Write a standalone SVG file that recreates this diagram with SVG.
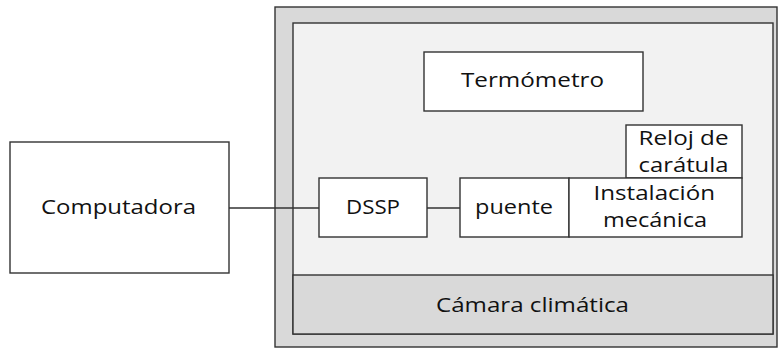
<svg xmlns="http://www.w3.org/2000/svg" width="778" height="348" viewBox="0 0 778 348">
<style>
.b{stroke:#333;stroke-width:1.4;}
.w{fill:#fff;}
.t{font-family:"Open Sans","Noto Sans",sans-serif;font-size:19.5px;fill:#111;text-anchor:start;}
.c{stroke:#333;stroke-width:1.4;fill:none;}
</style>
<rect width="778" height="348" fill="#fff"/>
<g id="camara-outer">
<rect class="b" x="275" y="7" width="502" height="340" fill="#d9d9d9"/>
<rect class="b" x="293" y="23" width="480" height="311" fill="#f2f2f2"/>
</g>
<g id="camara-climatica">
<rect class="b" x="293" y="275" width="480" height="59" fill="#d9d9d9"/>
<text class="t" x="436" y="311.5" textLength="193" lengthAdjust="spacingAndGlyphs">Cámara climática</text>
</g>
<g id="connectors">
<line class="c" x1="229" y1="208" x2="319" y2="208"/>
<line class="c" x1="427" y1="208" x2="460" y2="208"/>
</g>
<g id="computadora">
<rect class="b w" x="10" y="142" width="219" height="131"/>
<text class="t" x="41" y="213.5" textLength="155" lengthAdjust="spacingAndGlyphs">Computadora</text>
</g>
<g id="termometro">
<rect class="b w" x="424" y="52" width="219" height="59"/>
<text class="t" x="461" y="86.7" textLength="143" lengthAdjust="spacingAndGlyphs">Termómetro</text>
</g>
<g id="reloj">
<rect class="b w" x="626" y="125" width="116" height="53"/>
<text class="t" x="638.5" y="145" textLength="90" lengthAdjust="spacingAndGlyphs">Reloj de</text>
<text class="t" x="638.5" y="171.7" textLength="90" lengthAdjust="spacingAndGlyphs">carátula</text>
</g>
<g id="dssp">
<rect class="b w" x="319" y="178" width="108" height="59"/>
<text class="t" x="346" y="214" textLength="54" lengthAdjust="spacingAndGlyphs">DSSP</text>
</g>
<g id="puente">
<rect class="b w" x="460" y="178" width="109" height="59"/>
<text class="t" x="475" y="214.3" textLength="78" lengthAdjust="spacingAndGlyphs">puente</text>
</g>
<g id="instalacion">
<rect class="b w" x="569" y="178" width="173" height="59"/>
<text class="t" x="593.5" y="200" textLength="121.5" lengthAdjust="spacingAndGlyphs">Instalación</text>
<text class="t" x="603" y="226.7" textLength="104" lengthAdjust="spacingAndGlyphs">mecánica</text>
</g>
</svg>
